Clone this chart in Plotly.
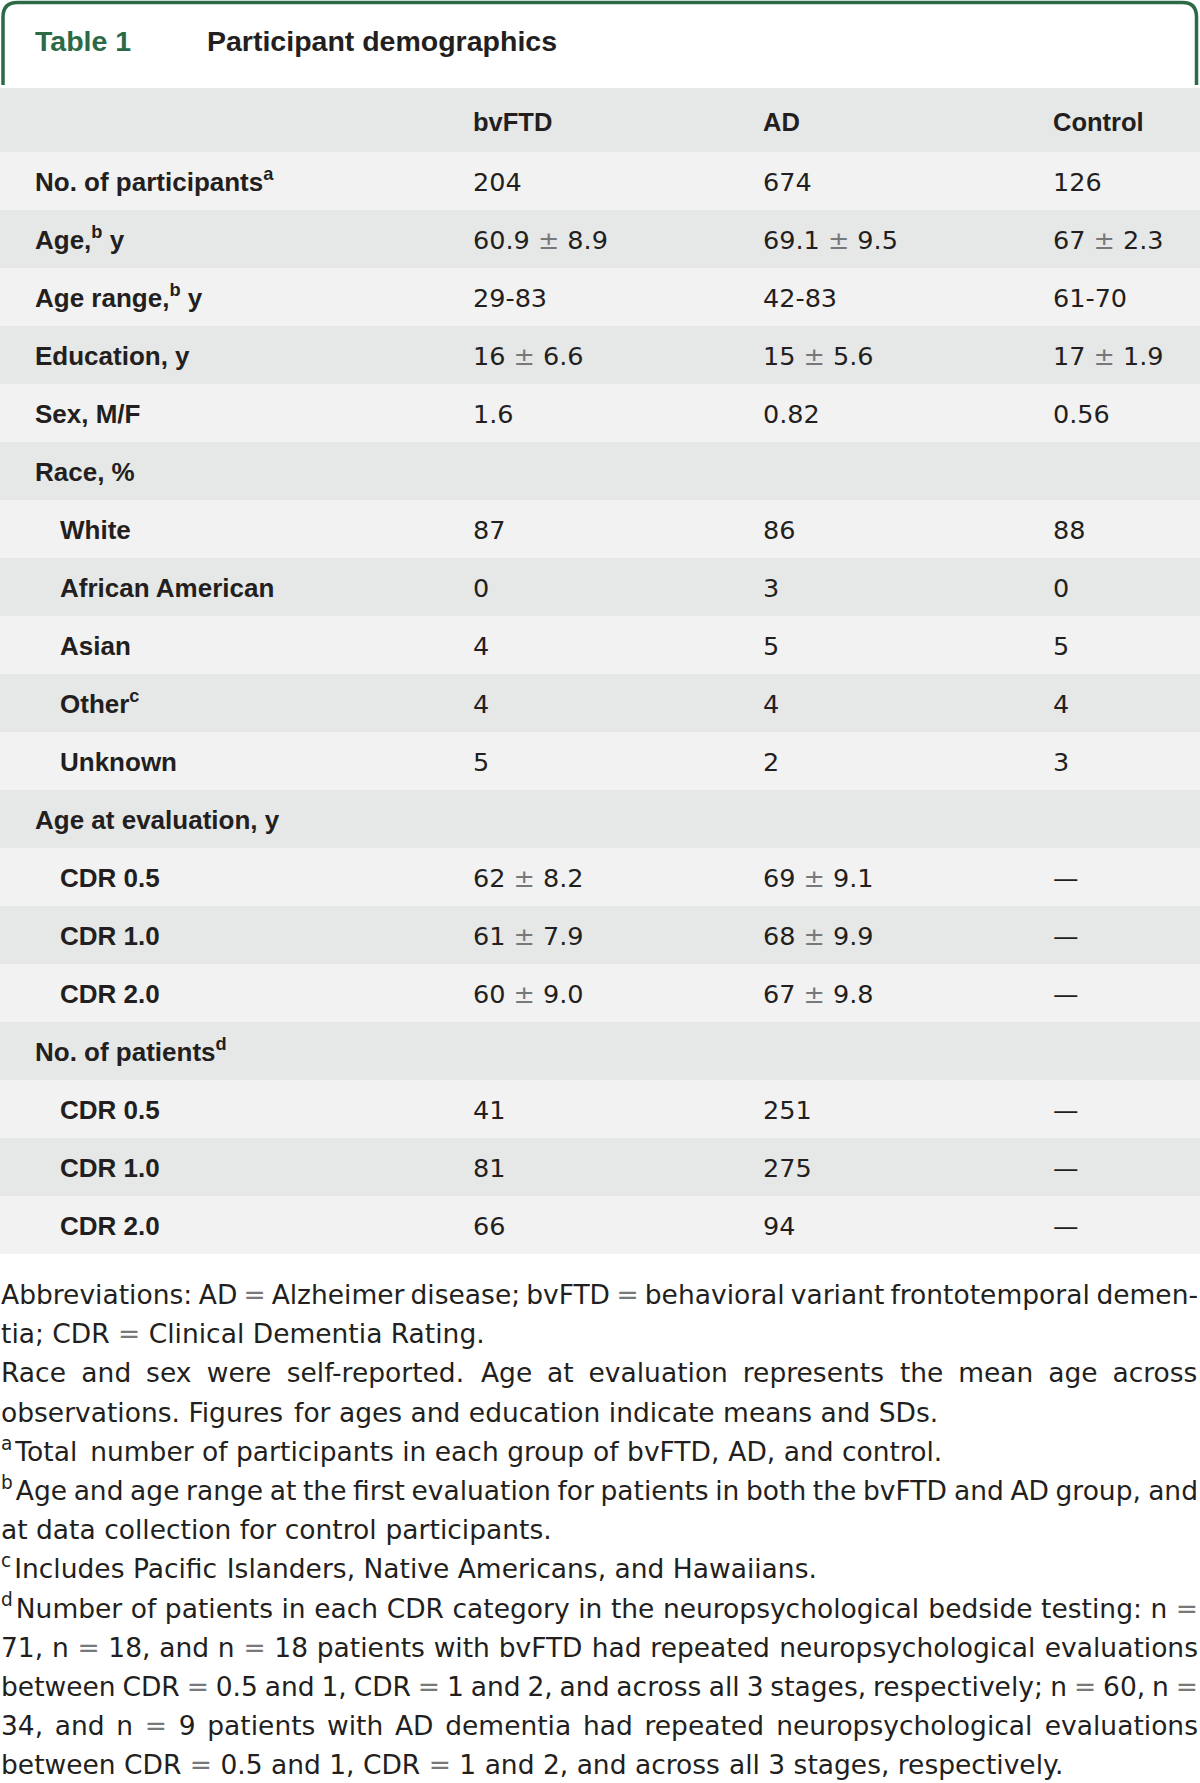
import re
import plotly.graph_objects as go

# ---------------- data ----------------
title_label = "Table 1"
title_text = "Participant demographics"
groups = ["bvFTD", "AD", "Control"]

row_labels = [
    "No. of participants<sup>a</sup>", "Age,<sup>b</sup> y", "Age range,<sup>b</sup> y",
    "Education, y", "Sex, M/F", "Race, %", "White", "African American", "Asian",
    "Other<sup>c</sup>", "Unknown", "Age at evaluation, y", "CDR 0.5", "CDR 1.0",
    "CDR 2.0", "No. of patients<sup>d</sup>", "CDR 0.5", "CDR 1.0", "CDR 2.0",
]
row_level = [0, 0, 0, 0, 0, 0, 1, 1, 1, 1, 1, 0, 1, 1, 1, 0, 1, 1, 1]

bvftd = ["204", "60.9 ± 8.9", "29-83", "16 ± 6.6", "1.6", "", "87", "0", "4", "4", "5",
         "", "62 ± 8.2", "61 ± 7.9", "60 ± 9.0", "", "41", "81", "66"]
ad = ["674", "69.1 ± 9.5", "42-83", "15 ± 5.6", "0.82", "", "86", "3", "5", "4", "2",
      "", "69 ± 9.1", "68 ± 9.9", "67 ± 9.8", "", "251", "275", "94"]
control = ["126", "67 ± 2.3", "61-70", "17 ± 1.9", "0.56", "", "88", "0", "5", "4", "3",
           "", "—", "—", "—", "", "—", "—", "—"]

footnotes = [
    ["Abbreviations: AD = Alzheimer disease; bvFTD = behavioral variant frontotemporal demen-",
     "tia; CDR = Clinical Dementia Rating."],
    ["Race and sex were self-reported. Age at evaluation represents the mean age across",
     "observations. Figures for ages and education indicate means and SDs."],
    ["<sup>a</sup>Total number of participants in each group of bvFTD, AD, and control."],
    ["<sup>b</sup>Age and age range at the first evaluation for patients in both the bvFTD and AD group, and",
     "at data collection for control participants."],
    ["<sup>c</sup>Includes Pacific Islanders, Native Americans, and Hawaiians."],
    ["<sup>d</sup>Number of patients in each CDR category in the neuropsychological bedside testing: n =",
     "71, n = 18, and n = 18 patients with bvFTD had repeated neuropsychological evaluations",
     "between CDR = 0.5 and 1, CDR = 1 and 2, and across all 3 stages, respectively; n = 60, n =",
     "34, and n = 9 patients with AD dementia had repeated neuropsychological evaluations",
     "between CDR = 0.5 and 1, CDR = 1 and 2, and across all 3 stages, respectively."],
]

# ---------------- layout / style ----------------
W, H = 1200, 1783
HEAD_TOP, HEAD_H, ROW_H = 88, 64, 58
LABEL_X, INDENT_X = 35, 60
COL_X = [473, 763, 1053]
DARK, LIGHT = "#e6e7e7", "#f2f2f2"
INK = "#231f20"
GREEN = "#2c6a47"
PM_COLOR = "#77787a"

BOLD_FONT = "Liberation Sans"
REG_FONT = "DejaVu Sans"
FS_TITLE = 28.5
FS_HEAD = 25.5
FS_LABEL = 26
FS_VAL = 25.5
FS_FN = 26.5
SUP_GAP = 3

FN_X0, FN_X1 = 1, 1198
FN_BASE0, FN_LEAD = 1304, 39.2

# DejaVu Sans advance widths (em)
DJV = {
    ' ': .318, '!': .400, ',': .318, '-': .361, '.': .318, '/': .337, ':': .337, ';': .337,
    '=': .838, '0': .636, '1': .636, '2': .636, '3': .636, '4': .636, '5': .636, '6': .636,
    '7': .636, '8': .636, '9': .636,
    'A': .684, 'B': .686, 'C': .698, 'D': .770, 'E': .632, 'F': .575, 'G': .775, 'H': .752,
    'I': .295, 'J': .295, 'K': .656, 'L': .557, 'M': .863, 'N': .748, 'O': .787, 'P': .603,
    'Q': .787, 'R': .695, 'S': .635, 'T': .611, 'U': .732, 'V': .684, 'W': .989, 'X': .685,
    'Y': .611, 'Z': .685,
    'a': .613, 'b': .635, 'c': .550, 'd': .635, 'e': .615, 'f': .352, 'g': .635, 'h': .634,
    'i': .278, 'j': .278, 'k': .579, 'l': .278, 'm': .974, 'n': .634, 'o': .612, 'p': .635,
    'q': .635, 'r': .411, 's': .521, 't': .392, 'u': .634, 'v': .592, 'w': .818, 'x': .592,
    'y': .592, 'z': .525,
}


def plain_width(s, fs):
    return sum(DJV.get(c, .6) for c in s) * fs


def split_word(w):
    """Return (sup_mark, rest) for a word that may start with a footnote mark."""
    m = re.match(r'^<sup>(.*?)</sup>(.*)$', w)
    if m:
        return m.group(1), m.group(2)
    return "", w


def word_width(w, fs):
    sup, rest = split_word(w)
    width = plain_width(rest, fs)
    if sup:
        width += plain_width(sup, fs * 0.7) + SUP_GAP
    return width


def style_pm(s):
    return s.replace("±", f"<span style='color:{PM_COLOR}'>±</span>")


n_rows = len(row_labels)
row_centers = [HEAD_TOP + HEAD_H + ROW_H * (i + 0.5) for i in range(n_rows)]
head_center = HEAD_TOP + HEAD_H / 2

fig = go.Figure()

# row backgrounds
fig.add_trace(go.Bar(
    orientation="h",
    y=[head_center] + row_centers,
    x=[W] * (n_rows + 1),
    base=0,
    width=[HEAD_H] + [ROW_H] * n_rows,
    marker=dict(color=[DARK] + [LIGHT if i % 2 == 0 else DARK for i in range(n_rows)],
                line=dict(width=0)),
    hoverinfo="skip",
    showlegend=False,
))


def text_trace(xs, ys, texts, family, size, color=INK, weight="normal"):
    keep = [(x, y, t) for x, y, t in zip(xs, ys, texts) if t]
    return go.Scatter(
        x=[k[0] for k in keep], y=[k[1] for k in keep], text=[k[2] for k in keep],
        mode="text", textposition="middle right",
        marker=dict(size=0),
        textfont=dict(family=family, size=size, color=color, weight=weight),
        hoverinfo="skip", showlegend=False, cliponaxis=False,
    )


def y_for(center, fs, cap=0.72):
    # point y so that the cap-height centre sits at `center`
    return center + cap / 2 * fs - 0.25 * fs


# title
fig.add_trace(text_trace([LABEL_X], [y_for(41, FS_TITLE, 0.716)], [title_label],
                         BOLD_FONT, FS_TITLE, GREEN, "bold"))
fig.add_trace(text_trace([207], [y_for(41, FS_TITLE, 0.716)], [title_text],
                         BOLD_FONT, FS_TITLE, INK, "bold"))

# column headers
fig.add_trace(text_trace(COL_X, [y_for(head_center + 1.5, FS_HEAD, 0.716)] * 3, groups,
                         BOLD_FONT, FS_HEAD, INK, "bold"))

# row labels
fig.add_trace(text_trace(
    [LABEL_X if lv == 0 else INDENT_X for lv in row_level],
    [y_for(c + 0.7, FS_LABEL, 0.716) for c in row_centers],
    row_labels, BOLD_FONT, FS_LABEL, INK, "bold"))

# values
for cx, vals in zip(COL_X, [bvftd, ad, control]):
    fig.add_trace(text_trace(
        [cx] * n_rows,
        [y_for(c + 0.7, FS_VAL, 0.729) for c in row_centers],
        [style_pm(v) for v in vals], REG_FONT, FS_VAL))

# footnotes (justified like the source)
fx, fy, ft = [], [], []
k = 0
for para in footnotes:
    for j, line in enumerate(para):
        words = line.split(" ")
        wsum = sum(word_width(w, FS_FN) for w in words)
        justify = j < len(para) - 1
        if justify and len(words) > 1:
            gap = (FN_X1 - FN_X0 - wsum) / (len(words) - 1)
        else:
            gap = DJV[' '] * FS_FN
        x = FN_X0
        y = FN_BASE0 + k * FN_LEAD - 0.25 * FS_FN
        for w in words:
            sup, rest = split_word(w)
            if sup:
                fx.append(x)
                fy.append(y)
                ft.append(f"<sup>{sup}</sup>")
                x += plain_width(sup, FS_FN * 0.7) + SUP_GAP
            fx.append(x)
            fy.append(y)
            ft.append(rest if rest != "=" else f"<span style='color:{PM_COLOR}'>=</span>")
            x += plain_width(rest, FS_FN) + gap
        k += 1
fig.add_trace(text_trace(fx, fy, ft, REG_FONT, FS_FN))

# green header frame
fig.add_shape(
    type="path",
    path="M 3,85 L 3,17 Q 3,2.5 17.5,2.5 L 1182.5,2.5 Q 1196.5,2.5 1196.5,17 L 1196.5,85",
    xref="x", yref="y",
    line=dict(color=GREEN, width=3.5),
    layer="above",
)

fig.update_layout(
    width=W, height=H,
    margin=dict(l=0, r=0, t=0, b=0),
    paper_bgcolor="white", plot_bgcolor="white",
    bargap=0,
    xaxis=dict(range=[0, W], visible=False, fixedrange=True),
    yaxis=dict(range=[H, 0], visible=False, fixedrange=True),
    showlegend=False,
)

fig.write_html(
    "out.html",
    config={"displayModeBar": False},
    post_script="document.body.style.margin='0';document.body.style.overflow='hidden';"
                "document.documentElement.style.overflow='hidden';",
)
